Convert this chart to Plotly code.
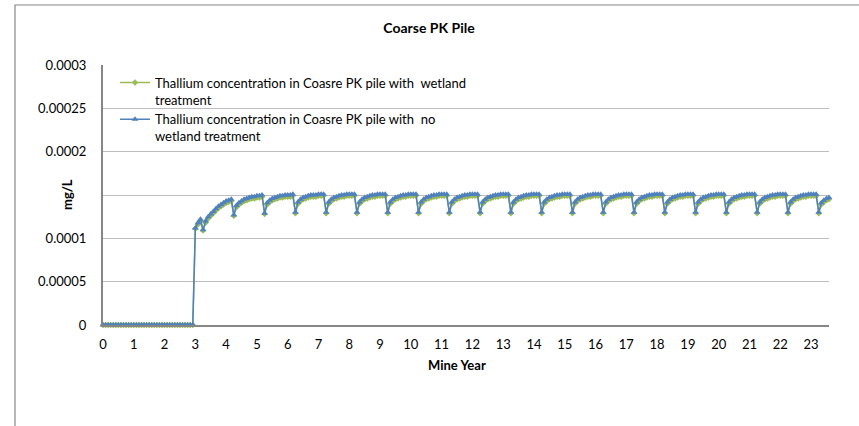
import plotly.graph_objects as go

# ---------------- data ----------------
# Monthly samples; concentrations in units of 1e-6 mg/L
UNIT = 1e-6
N_MONTHS = 284
mine_year = [m / 12 for m in range(N_MONTHS)]

wetland_by_year = [
    [0] * 12,  # year 0
    [0] * 12,  # year 1
    [0] * 12,  # year 2
    [111, 116, 120, 109, 118, 123, 126, 129, 132, 135, 137, 139],
    [141, 142, 143, 126, 136, 139, 141, 143, 144, 145, 146, 146],
    [147, 147, 148, 128, 139, 142, 144, 145, 146, 147, 147, 148],
    [148, 148, 149, 129, 140, 143, 145, 146, 147, 148, 148, 148],
    [149, 149, 149, 129, 140, 143, 145, 146, 147, 148, 148, 149],
    [149, 149, 149, 129, 140, 143, 145, 146, 147, 148, 148, 149],
    [149, 149, 149, 129, 140, 143, 145, 146, 147, 148, 148, 149],
    [149, 149, 149, 129, 140, 143, 145, 146, 147, 148, 148, 149],
    [149, 149, 149, 129, 140, 143, 145, 146, 147, 148, 148, 149],
    [149, 149, 149, 129, 140, 143, 145, 146, 147, 148, 148, 149],
    [149, 149, 149, 129, 140, 143, 145, 146, 147, 148, 148, 149],
    [149, 149, 149, 129, 140, 143, 145, 146, 147, 148, 148, 149],
    [149, 149, 149, 129, 140, 143, 145, 146, 147, 148, 148, 149],
    [149, 149, 149, 129, 140, 143, 145, 146, 147, 148, 148, 149],
    [149, 149, 149, 129, 140, 143, 145, 146, 147, 148, 148, 149],
    [149, 149, 149, 129, 140, 143, 145, 146, 147, 148, 148, 149],
    [149, 149, 149, 129, 140, 143, 145, 146, 147, 148, 148, 149],
    [149, 149, 149, 129, 140, 143, 145, 146, 147, 148, 148, 149],
    [149, 149, 149, 129, 140, 143, 145, 146, 147, 148, 148, 149],
    [149, 149, 149, 129, 140, 143, 145, 146, 147, 148, 148, 149],
    [149, 149, 149, 129, 139, 142, 144, 145],  # year 23 (partial)
]

no_wetland_by_year = [
    [0] * 12,
    [0] * 12,
    [0] * 12,
    [112, 118, 122, 110, 120, 125, 128, 131, 134, 137, 139, 141],
    [143, 144, 145, 127, 138, 141, 143, 145, 146, 147, 148, 148],
    [149, 149, 150, 129, 141, 144, 146, 147, 148, 149, 149, 150],
    [150, 150, 151, 130, 142, 145, 147, 148, 149, 150, 150, 150],
    [151, 151, 151, 130, 142, 145, 147, 148, 149, 150, 150, 151],
    [151, 151, 151, 130, 142, 145, 147, 148, 149, 150, 150, 151],
    [151, 151, 151, 130, 142, 145, 147, 148, 149, 150, 150, 151],
    [151, 151, 151, 130, 142, 145, 147, 148, 149, 150, 150, 151],
    [151, 151, 151, 130, 142, 145, 147, 148, 149, 150, 150, 151],
    [151, 151, 151, 130, 142, 145, 147, 148, 149, 150, 150, 151],
    [151, 151, 151, 130, 142, 145, 147, 148, 149, 150, 150, 151],
    [151, 151, 151, 130, 142, 145, 147, 148, 149, 150, 150, 151],
    [151, 151, 151, 130, 142, 145, 147, 148, 149, 150, 150, 151],
    [151, 151, 151, 130, 142, 145, 147, 148, 149, 150, 150, 151],
    [151, 151, 151, 130, 142, 145, 147, 148, 149, 150, 150, 151],
    [151, 151, 151, 130, 142, 145, 147, 148, 149, 150, 150, 151],
    [151, 151, 151, 130, 142, 145, 147, 148, 149, 150, 150, 151],
    [151, 151, 151, 130, 142, 145, 147, 148, 149, 150, 150, 151],
    [151, 151, 151, 130, 142, 145, 147, 148, 149, 150, 150, 151],
    [151, 151, 151, 130, 142, 145, 147, 148, 149, 150, 150, 151],
    [151, 151, 151, 130, 141, 144, 146, 147],
]

wetland = [v * UNIT for yr in wetland_by_year for v in yr]
no_wetland = [v * UNIT for yr in no_wetland_by_year for v in yr]

# the 0.00015 label is hidden behind the axis title in the original chart
y_tickvals = [0, 0.00005, 0.0001, 0.00015, 0.0002, 0.00025, 0.0003]
y_ticktext = ["0", "0.00005", "0.0001", "", "0.0002", "0.00025", "0.0003"]
x_tickvals = list(range(24))

name_wetland = "Thallium concentration in Coasre PK pile with  wetland<br>treatment"
name_no_wetland = "Thallium concentration in Coasre PK pile with  no<br>wetland treatment"

# ---------------- figure ----------------
FONT = "Lato"
GREEN = "#9BBB59"
BLUE = "#4F81BD"

# plot area in page pixels
PL, PR, PT, PB = 103, 829, 65, 325
PW, PH = PR - PL, PB - PT

fig = go.Figure()
fig.add_trace(go.Scatter(
    x=mine_year, y=wetland, name=name_wetland, mode="lines+markers",
    line=dict(color=GREEN, width=1.5),
    marker=dict(symbol="diamond", size=5, color=GREEN),
    cliponaxis=False,
))
fig.add_trace(go.Scatter(
    x=mine_year, y=no_wetland, name=name_no_wetland, mode="lines+markers",
    line=dict(color=BLUE, width=1.5),
    marker=dict(symbol="triangle-up", size=6, color=BLUE),
    cliponaxis=False,
))

fig.update_layout(
    width=859, height=426,
    margin=dict(l=PL, r=859 - PR, t=PT, b=426 - PB),
    paper_bgcolor="white", plot_bgcolor="white",
    font=dict(family=FONT, size=13, color="#000000"),
    title=dict(text="<b>Coarse PK Pile</b>", x=429 / 859, xref="container",
               xanchor="center",
               y=1 - 28 / 426, yanchor="middle",
               font=dict(family=FONT, size=14, color="#000000")),
    showlegend=True,
    legend=dict(x=(115 - PL) / PW, y=0.99, xanchor="left", yanchor="top",
                bgcolor="rgba(0,0,0,0)", valign="top",
                font=dict(family=FONT, size=13, color="#000000"),
                tracegroupgap=0, itemwidth=30),
    xaxis=dict(range=[0, mine_year[-1]], tickvals=x_tickvals,
               showgrid=False, zeroline=False,
               showline=True, linecolor="#868686", linewidth=2,
               ticks="", ticklabelstandoff=6,
               tickfont=dict(family=FONT, size=13, color="#000000")),
    yaxis=dict(range=[0, 0.0003], tickvals=y_tickvals, ticktext=y_ticktext,
               showgrid=True, gridcolor="#BDBDBD", gridwidth=1.2,
               zeroline=False,
               showline=True, linecolor="#868686", linewidth=2,
               ticks="", ticklabelstandoff=12,
               tickfont=dict(family=FONT, size=13, color="#000000")),
    annotations=[
        dict(text="<b>Mine Year</b>", xref="paper", yref="paper",
             x=(457 - PL) / PW, y=(PB - 365) / PH, showarrow=False,
             xanchor="center", yanchor="middle",
             font=dict(family=FONT, size=13, color="#000000")),
        dict(text="<b>mg/L</b>", xref="paper", yref="paper",
             x=(67 - PL) / PW, y=0.5, textangle=-90, showarrow=False,
             xanchor="center", yanchor="middle",
             font=dict(family=FONT, size=13, color="#000000")),
    ],
    shapes=[
        dict(type="rect", xref="paper", yref="paper",
             x0=(15 - PL) / PW, x1=1.2, y0=-0.6, y1=(PB - 5) / PH,
             line=dict(color="#868686", width=1.2), fillcolor="rgba(0,0,0,0)",
             layer="above"),
    ],
)

fig.write_html("out.html", config={"displayModeBar": False},
               post_script="document.body.style.margin='0px';")
